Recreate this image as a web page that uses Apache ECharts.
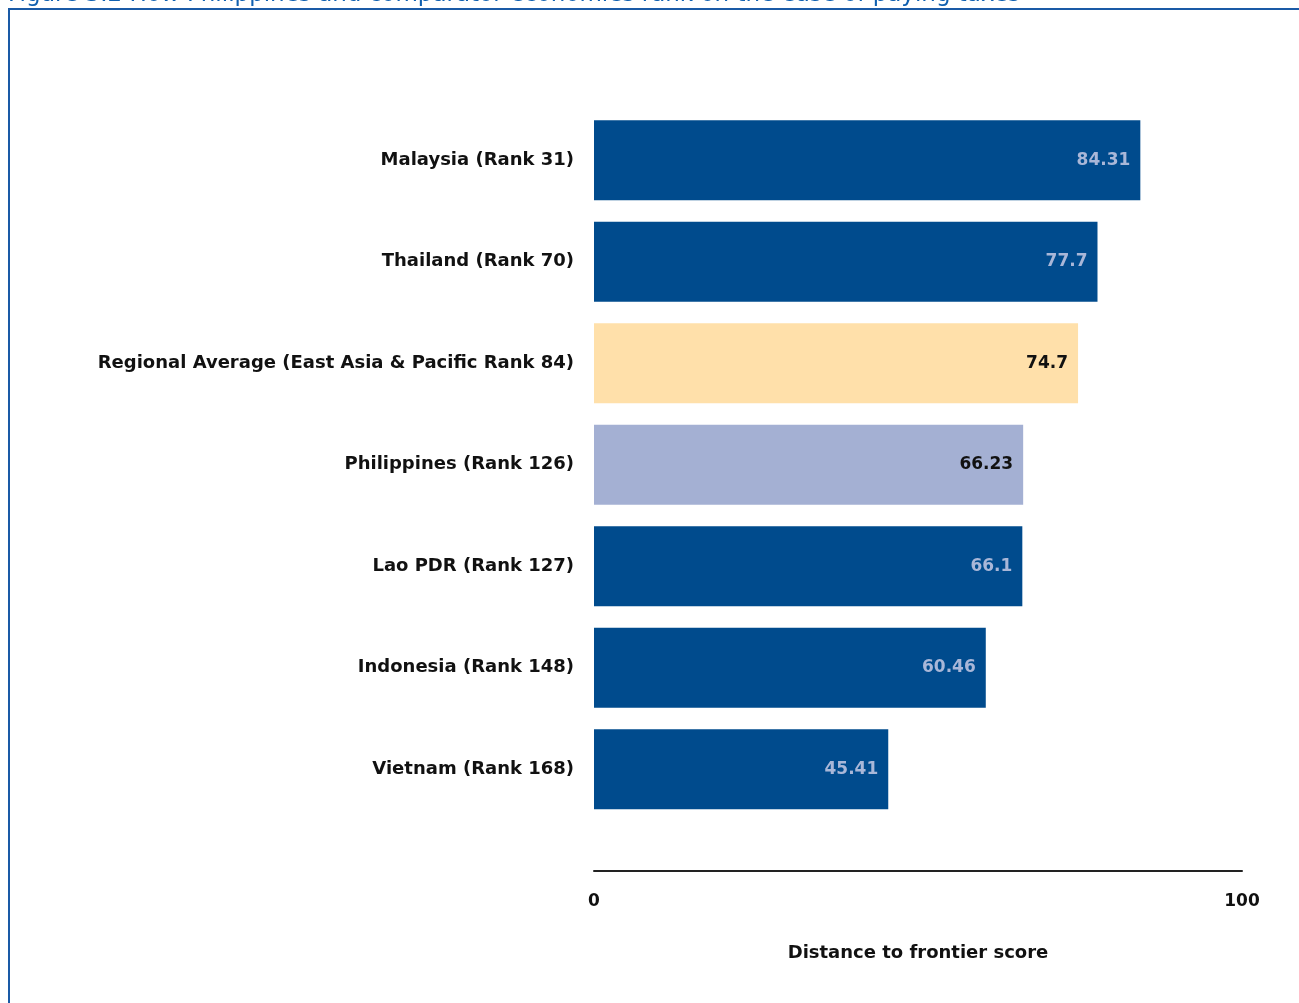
<!DOCTYPE html>
<html><head><meta charset="utf-8">
<script src="https://cdn.jsdelivr.net/npm/echarts@6/dist/echarts.min.js"></script>
<style>html,body{margin:0;padding:0;background:#fff}#c{width:1299px;height:1003px}</style>
</head><body><div id="c"></div>
<script>
const categories = ["Malaysia (Rank 31)","Thailand (Rank 70)","Regional Average (East Asia & Pacific Rank 84)","Philippines (Rank 126)","Lao PDR (Rank 127)","Indonesia (Rank 148)","Vietnam (Rank 168)"];
const values = [84.31, 77.7, 74.7, 66.23, 66.1, 60.46, 45.41];
const valueLabels = ["84.31","77.7","74.7","66.23","66.1","60.46","45.41"];
const xTicks = [0, 100];
const titleText = "Figure 3.2 How Philippines and comparator economies rank on the ease of paying taxes";
const axisName = "Distance to frontier score";

const dark = "#004b8d";
const colors = [dark, dark, "#ffe0aa", "#a4b0d3", dark, dark, dark];
const labelColors = ["#a9b7d8","#a9b7d8","#111","#111","#a9b7d8","#a9b7d8","#a9b7d8"];
const font = "'DejaVu Sans', sans-serif";

const chart = echarts.init(document.getElementById('c'), null, {renderer:'canvas'});
chart.setOption({
  animation:false,
  grid:{left:594, right:1299-1242, top:109.5, bottom:1003-820},
  xAxis:{type:'value', min:0, max:100, interval:100, offset:51,
    axisLine:{show:true, lineStyle:{color:'#222', width:2}},
    axisTick:{show:false}, splitLine:{show:false},
    axisLabel:{color:'#111', fontWeight:'bold', fontSize:17, fontFamily:font, margin:22,
      formatter:v=>xTicks.includes(v)?String(v):''},
    name:axisName, nameLocation:'middle', nameGap:73,
    nameTextStyle:{color:'#111', fontWeight:'bold', fontSize:18, fontFamily:font}
  },
  yAxis:{type:'category', inverse:true, data:categories,
    axisLine:{show:false}, axisTick:{show:false},
    axisLabel:{color:'#111', fontWeight:'bold', fontSize:18, fontFamily:font, margin:20}
  },
  series:[{type:'bar', barWidth:80,
    data:values.map((v,i)=>({value:v, itemStyle:{color:colors[i]},
      label:{color:labelColors[i]}})),
    label:{show:true, position:'insideRight', distance:10, fontWeight:'bold', fontSize:17, fontFamily:font,
      formatter:p=>valueLabels[p.dataIndex]}
  }],
  graphic:[
    {type:'text', left:8, top:-16, style:{text:titleText, fill:'#1060b0', fontSize:23, fontFamily:font}},
    {type:'line', shape:{x1:8, y1:9, x2:1299, y2:9}, style:{stroke:'#1a5aa6', lineWidth:2}},
    {type:'line', shape:{x1:9, y1:9, x2:9, y2:1003}, style:{stroke:'#1a5aa6', lineWidth:2}}
  ]
});
</script></body></html>
